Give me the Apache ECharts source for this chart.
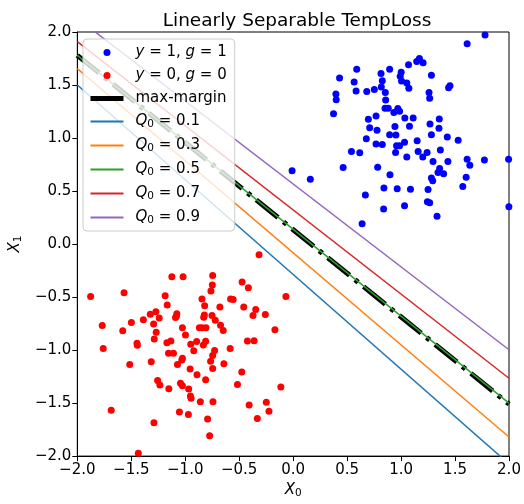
<!DOCTYPE html>
<html>
<head>
<meta charset="utf-8">
<script src="https://cdn.jsdelivr.net/npm/echarts@6/dist/echarts.min.js"></script>
<style>html,body{margin:0;padding:0;background:#fff}#c{width:524px;height:504px}</style>
</head>
<body>
<div id="c"></div>
<script>
// ---- data ----
const blueX = [1.778,1.612,1.170,1.145,1.204,1.069,0.589,0.894,0.814,1.001,0.992,1.281,0.430,0.565,0.826,1.004,1.053,1.072,0.817,1.453,1.440,0.583,0.682,0.752,0.854,0.396,0.399,1.259,1.265,0.857,0.851,0.881,0.933,0.970,0.986,0.374,0.768,0.697,1.035,1.112,1.354,1.268,0.709,0.777,0.943,1.078,1.351,0.894,0.952,1.281,1.428,1.529,0.678,1.149,1.032,0.768,0.826,0.958,0.986,0.949,0.540,0.617,1.158,1.241,1.201,1.364,1.053,1.296,1.434,1.612,1.637,1.772,1.996,-0.010,0.159,0.463,0.783,1.357,1.342,1.394,0.897,1.603,1.281,1.293,1.572,0.841,0.964,1.087,1.250,0.669,1.244,1.265,1.032,0.838,1.999,1.333,0.639];
const blueY = [1.972,1.888,1.750,1.722,1.710,1.691,1.648,1.648,1.608,1.620,1.583,1.592,1.565,1.528,1.540,1.537,1.518,1.469,1.481,1.494,1.475,1.444,1.438,1.457,1.429,1.416,1.361,1.429,1.376,1.358,1.281,1.281,1.241,1.278,1.253,1.228,1.207,1.176,1.188,1.188,1.179,1.133,1.096,1.074,1.108,1.111,1.092,1.031,1.028,1.031,1.009,0.978,0.994,0.975,0.960,0.944,0.938,0.926,0.926,0.864,0.873,0.861,0.873,0.864,0.821,0.886,0.821,0.778,0.778,0.799,0.744,0.793,0.799,0.691,0.611,0.722,0.725,0.713,0.676,0.663,0.654,0.629,0.623,0.596,0.543,0.528,0.521,0.518,0.515,0.463,0.398,0.389,0.361,0.330,0.352,0.262,0.191];
const redX = [-0.316,-1.877,-1.567,-1.769,-1.760,-1.686,-1.435,-1.499,-1.579,-1.514,-1.447,-1.444,-1.388,-1.324,-1.272,-1.241,-1.293,-1.269,-1.287,-1.315,-1.124,-1.020,-1.186,-1.167,-1.078,-1.081,-1.090,-1.026,-0.998,-1.170,-1.133,-1.155,-1.109,-1.026,-1.032,-1.072,-1.256,-1.235,-1.152,-1.044,-1.026,-1.054,-0.968,-0.952,-0.946,-0.971,-1.290,-0.949,-0.921,-0.894,-0.955,-0.891,-0.860,-0.811,-0.793,-0.774,-0.869,-0.845,-0.808,-0.845,-0.820,-0.829,-0.823,-0.832,-0.811,-0.746,-0.749,-0.762,-0.752,-0.722,-0.679,-0.673,-0.648,-0.728,-0.746,-0.765,-0.746,-0.642,-0.743,-0.580,-0.556,-0.584,-0.473,-0.415,-0.458,-0.476,-0.516,-0.347,-0.372,-0.424,-0.362,-0.408,-0.332,-0.258,-0.169,-0.249,-0.224,-0.114,-0.067];
const redY = [-0.102,-0.494,-0.460,-0.769,-0.985,-1.568,-1.972,-0.741,-0.818,-1.136,-0.935,-0.954,-0.713,-0.661,-0.639,-0.698,-0.753,-0.833,-0.895,-1.111,-0.309,-0.309,-0.488,-0.574,-0.658,-0.679,-0.692,-0.790,-0.858,-0.932,-0.914,-1.031,-1.031,-1.077,-1.093,-1.136,-1.287,-1.330,-1.364,-1.312,-1.336,-1.583,-1.367,-1.432,-1.454,-1.608,-1.685,-0.945,-1.006,-0.920,-1.179,-1.232,-1.488,-1.281,-1.651,-1.809,-0.790,-0.790,-0.790,-0.519,-0.583,-0.691,-0.670,-0.951,-0.917,-0.297,-0.386,-0.442,-0.673,-0.719,-0.593,-0.766,-0.815,-1.003,-1.050,-1.105,-1.173,-1.130,-1.488,-0.519,-0.522,-0.985,-0.358,-0.411,-0.593,-1.207,-1.324,-0.617,-0.673,-0.914,-0.911,-1.519,-1.645,-0.664,-0.809,-1.491,-1.577,-1.349,-0.494];

// decision lines: y at x = -2 and x = 2
const lineX = [-2, 2];
const maxMarginY = [1.78, -1.51];
const qLevels = ['0.1', '0.3', '0.5', '0.7', '0.9'];
const qLineY = [
  [1.50, -2.074],
  [1.655, -1.82],
  [1.78, -1.50],
  [1.91, -1.266],
  [2.13, -0.997]
];
const qColors = ['#1f77b4', '#ff7f0e', '#2ca02c', '#d62728', '#9467bd'];

// ---- chart ----
const FONT = 'DejaVu Sans';
const FS = 15;
const fmt = v => (v < 0 ? '\u2212' : '') + Math.abs(v).toFixed(1);
const zip = (a, b) => a.map((v, i) => [v, b[i]]);

const series = [
  {name: 'b1', type: 'scatter', data: zip(blueX, blueY), symbolSize: 7,
   itemStyle: {color: '#0000ff', opacity: 1}, z: 2},
  {name: 'r0', type: 'scatter', data: zip(redX, redY), symbolSize: 7,
   itemStyle: {color: '#ff0000', opacity: 1}, z: 2},
  {name: 'mm', type: 'line', data: zip(lineX, maxMarginY), showSymbol: false, symbol: 'none',
   lineStyle: {color: '#000', width: 5, type: [28, 7, 4, 7], cap: 'butt'},
   itemStyle: {color: '#000'}, z: 3, silent: true}
];
qLevels.forEach((q, i) => {
  series.push({name: 'q' + i, type: 'line', data: zip(lineX, qLineY[i]), showSymbol: false, symbol: 'none',
    lineStyle: {color: qColors[i], width: 1.5}, itemStyle: {color: qColors[i]}, z: 4, silent: true});
});

const legendText = {
  b1: '{sp|}{i|y}{n| = 1, }{i|g}{n| = 1}',
  r0: '{sp|}{i|y}{n| = 0, }{i|g}{n| = 0}',
  mm: '{sp|}{n|max-margin}'
};
qLevels.forEach((q, i) => legendText['q' + i] = '{sp|}{i|Q}{s|0}{n| = ' + q + '}');

const rich = {
  sp: {width: 7},
  n: {fontFamily: FONT, fontSize: FS, color: '#000'},
  i: {fontFamily: FONT, fontSize: FS, fontStyle: 'italic', color: '#000'},
  s: {fontFamily: FONT, fontSize: 10.5, color: '#000', verticalAlign: 'bottom', padding: [6, 0, 0, 0]}
};

const noSym = {opacity: 0};
const chart = echarts.init(document.getElementById('c'), null, {renderer: 'canvas'});
chart.setOption({
  animation: false,
  backgroundColor: '#fff',
  title: {text: 'Linearly Separable TempLoss', left: 292, top: 7, textAlign: 'center',
    textStyle: {fontFamily: FONT, fontSize: 18.5, fontWeight: 'normal', color: '#000'}},
  grid: {left: 75, right: 15, top: 32, bottom: 40, show: true, borderColor: '#000', borderWidth: 1, backgroundColor: 'transparent'},
  legend: {
    z: 20, zlevel: 0,
    left: 83, top: 39, orient: 'vertical', itemWidth: 33, itemHeight: 7, itemGap: 8,
    padding: [6, 8, 5, 5], backgroundColor: 'rgba(255,255,255,0.8)', borderColor: '#cccccc', borderWidth: 1, borderRadius: 4,
    data: [
      {name: 'b1', icon: 'circle'},
      {name: 'r0', icon: 'circle'},
      {name: 'mm', lineStyle: {type: 'solid', width: 5}, itemStyle: noSym},
      {name: 'q0', itemStyle: noSym}, {name: 'q1', itemStyle: noSym}, {name: 'q2', itemStyle: noSym},
      {name: 'q3', itemStyle: noSym}, {name: 'q4', itemStyle: noSym}
    ],
    formatter: name => legendText[name],
    textStyle: {fontFamily: FONT, fontSize: FS, color: '#000', rich: rich},
    selectedMode: false
  },
  xAxis: {
    type: 'value', min: -2, max: 2, interval: 0.5,
    name: '{i|X}{s|0}', nameLocation: 'middle', nameGap: 17,
    nameTextStyle: {rich: rich},
    axisLine: {show: true, onZero: false, lineStyle: {color: '#000', width: 1}},
    axisTick: {show: true, length: 5, lineStyle: {color: '#000'}},
    axisLabel: {formatter: fmt, fontFamily: FONT, fontSize: FS, color: '#000', margin: 7},
    splitLine: {show: false}
  },
  yAxis: {
    type: 'value', min: -2, max: 2, interval: 0.5,
    name: '{i|X}{s|1}', nameLocation: 'middle', nameGap: 45, nameRotate: 90,
    nameTextStyle: {rich: rich},
    axisLine: {show: true, onZero: false, lineStyle: {color: '#000', width: 1}},
    axisTick: {show: true, length: 5, lineStyle: {color: '#000'}},
    axisLabel: {formatter: fmt, fontFamily: FONT, fontSize: FS, color: '#000', margin: 6},
    splitLine: {show: false}
  },
  series: series
});
</script>
</body>
</html>
